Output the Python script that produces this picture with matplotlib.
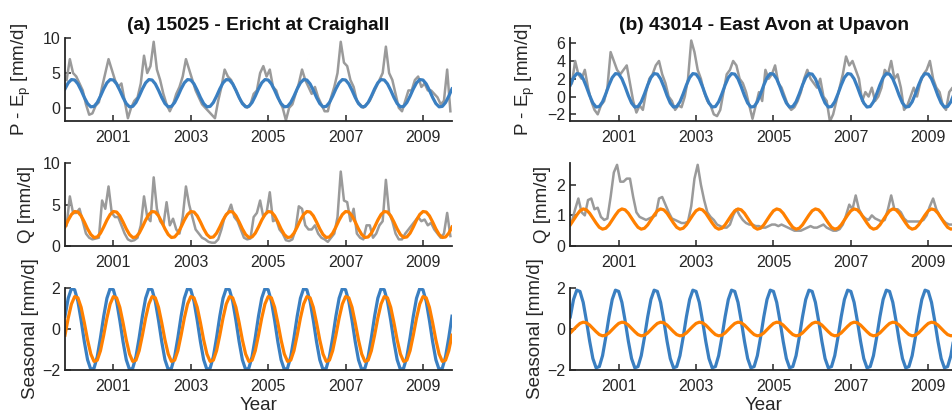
import numpy as np
import matplotlib
matplotlib.use('Agg')
import matplotlib.pyplot as plt

plt.rcParams['font.family'] = ['Liberation Sans', 'DejaVu Sans']

# monthly values, water years Oct 1999 - Sep 2009 (Oct..Sep per row)
pe_a = [
    4.0, 7.0, 5.0, 4.5, 3.5, 2.5, 0.5, -1.0, -0.8, 0.3, 0.8, 3.0,
    5.0, 7.0, 5.5, 4.0, 3.0, 3.5, 1.0, -1.5, 0.0, 1.0, 1.5, 3.5,
    7.5, 5.0, 6.0, 9.5, 5.5, 4.0, 2.0, 0.5, -0.5, 0.5, 2.0, 3.0,
    4.5, 7.0, 5.5, 4.0, 2.5, 1.5, 0.5, 0.0, -0.5, -1.0, -1.5, 1.0,
    3.0, 5.5, 4.5, 4.0, 3.0, 2.0, 1.0, 0.5, 0.0, 0.5, 2.0, 2.5,
    5.0, 6.0, 4.5, 5.5, 3.0, 2.5, 1.0, 0.0, -1.8, 0.0, 0.5, 2.0,
    3.5, 5.5, 4.0, 3.0, 2.0, 3.0, 1.5, 0.5, -0.5, -0.5, 1.5, 3.0,
    5.0, 9.5, 6.5, 6.0, 4.0, 3.0, 1.0, 0.5, 0.0, 0.5, 1.0, 2.0,
    3.0, 4.0, 5.0, 8.8, 5.0, 4.0, 2.0, 0.0, -0.5, 1.0, 2.5, 2.5,
    4.0, 4.5, 3.0, 3.5, 2.5, 2.5, 2.0, 1.5, 0.5, 1.0, 5.5, -0.5,
]
q_a = [
    2.5, 6.0, 4.0, 4.0, 4.5, 3.0, 1.5, 1.0, 0.8, 0.9, 1.0, 5.5,
    4.5, 7.2, 4.0, 3.5, 3.5, 2.5, 1.5, 0.8, 0.6, 0.7, 1.0, 2.5,
    6.0, 3.5, 3.0, 8.3, 4.5, 3.0, 2.5, 5.3, 2.5, 3.3, 2.0, 1.5,
    3.5, 7.2, 5.0, 3.5, 2.0, 1.5, 1.0, 0.8, 0.5, 0.4, 0.4, 0.8,
    2.0, 3.5, 4.0, 5.0, 3.5, 3.0, 2.0, 1.0, 0.8, 0.9, 3.5, 4.0,
    5.5, 3.5, 4.0, 6.5, 3.0, 3.2, 2.0, 1.5, 0.7, 0.6, 0.8, 2.0,
    4.8, 4.5, 2.5, 2.0, 2.0, 2.5, 1.5, 1.0, 0.8, 0.5, 1.0, 1.5,
    3.5, 9.0, 5.5, 5.3, 3.0, 4.5, 1.5, 1.0, 0.8, 2.5, 2.5, 1.0,
    1.5, 2.5, 3.0, 8.0, 4.0, 3.0, 1.5, 0.8, 0.8, 1.5, 2.0, 2.5,
    3.0, 3.5, 3.0, 3.2, 2.5, 2.8, 2.0, 1.5, 1.0, 1.5, 4.0, 1.2,
]
pe_b = [
    1.5, 4.0, 2.5, 2.0, 3.0, 1.0, -0.5, -1.5, -2.0, -1.0, -0.5, 1.0,
    5.0, 4.0, 3.0, 2.5, 3.0, 3.5, 1.5, -0.5, -1.8, -1.0, -1.5, 0.5,
    2.0, 2.5, 3.5, 4.0, 2.5, 1.5, 0.0, -0.5, -1.5, -1.0, -1.2, 0.0,
    2.0, 6.3, 5.0, 3.0, 2.0, 0.5, -0.5, -1.0, -2.0, -2.2, -1.5, 0.5,
    2.5, 3.0, 4.0, 3.5, 2.0, 1.5, 0.5, -1.0, -2.5, -1.0, 0.5, -0.5,
    3.0, 2.0, 2.5, 3.5, 1.5, 1.0, 0.0, -1.0, -1.5, -1.2, -0.5, 0.5,
    2.0, 3.0, 2.0, 1.5, 1.0, 2.0, 0.0, -0.5, -2.8, -2.0, -0.5, 1.0,
    2.5, 4.5, 3.5, 4.0, 3.0, 2.0, -0.5, 0.5, 0.0, 1.0, -0.5, 0.0,
    1.0, 3.0, 2.5, 4.0, 2.0, 2.5, 1.0, -1.5, -1.0, 0.0, 1.0, 0.0,
    1.5, 2.5, 3.0, 4.0, 2.0, 1.0, 0.5, -1.0, -1.5, 0.5, 1.0, -0.5,
]
q_b = [
    0.8, 1.2, 1.55, 1.1, 1.0, 1.5, 1.55, 1.2, 1.25, 0.95, 0.85, 0.9,
    1.6, 2.4, 2.65, 2.1, 2.1, 2.2, 2.2, 1.6, 1.1, 0.95, 0.9, 0.85,
    0.9, 0.95, 1.0, 1.55, 1.6, 1.35, 1.1, 0.9, 0.85, 0.8, 0.75, 0.75,
    0.8, 1.3, 2.2, 2.65, 2.0, 1.5, 1.1, 0.95, 0.85, 0.7, 0.65, 0.6,
    0.6, 0.7, 1.0, 1.2, 1.0, 0.85, 0.75, 0.7, 0.7, 0.65, 0.65, 0.6,
    0.6, 0.65, 0.7, 0.7, 0.65, 0.7, 0.65, 0.6, 0.55, 0.5, 0.5, 0.5,
    0.55, 0.6, 0.65, 0.6, 0.6, 0.65, 0.7, 0.6, 0.55, 0.5, 0.5, 0.55,
    0.7, 1.0, 1.35, 1.2, 1.65, 1.2, 1.0, 0.9, 0.85, 1.0, 0.9, 0.85,
    0.8, 0.85, 1.2, 1.65, 1.2, 1.2, 1.1, 0.9, 0.8, 0.8, 0.8, 0.8,
    0.8, 0.85, 1.0, 1.3, 1.55, 1.2, 1.0, 0.85, 0.75, 0.7, 0.7, 0.65,
]

# one seasonal cycle, start of each month Oct..Sep
seas_pe_a = [0.62, 1.49, 1.96, 1.90, 1.34, 0.42, -0.62, -1.49, -1.96, -1.90, -1.34, -0.42]
seas_q_a = [-0.30, 0.53, 1.21, 1.57, 1.51, 1.05, 0.30, -0.53, -1.21, -1.57, -1.51, -1.05]
seas_pe_b = [0.59, 1.43, 1.88, 1.82, 1.29, 0.40, -0.59, -1.43, -1.88, -1.82, -1.29, -0.40]
seas_q_b = [-0.19, -0.03, 0.13, 0.27, 0.33, 0.30, 0.19, 0.03, -0.13, -0.27, -0.33, -0.30]
mean_pe_a, mean_q_a = 2.1, 2.6
mean_pe_b, mean_q_b = 0.7, 0.88

titles = ['(a) 15025 - Ericht at Craighall', '(b) 43014 - East Avon at Upavon']
ylims = [[(-1.9, 10), (0, 10), (-2, 2)], [(-2.75, 6.55), (0, 2.7), (-2, 2)]]
yticks = [[[0, 5, 10], [0, 5, 10], [-2, 0, 2]], [[-2, 0, 2, 4, 6], [0, 1, 2], [-2, 0, 2]]]
ylab_off = [[-32, -30, -26], [-33, -19, -26]]

blue = '#3a7fc1'
orange = '#ff8000'
grey = '#9a9a9a'
dark = '#262626'

t_m = 1999.75 + (np.arange(120) + 0.5) / 12
t_s = 1999.75 + np.arange(121) / 12

def cycle(vals):
    v = np.tile(vals, 10)
    return np.append(v, vals[0])

fig = plt.figure(figsize=(9.52, 4.16), dpi=100)
W, H = 952, 416
lefts = [65, 570.3]
rows = [(38.3, 121), (163.3, 246), (287.7, 370.3)]
aw = 387

data = [
    (pe_a, q_a, seas_pe_a, seas_q_a, mean_pe_a, mean_q_a),
    (pe_b, q_b, seas_pe_b, seas_q_b, mean_pe_b, mean_q_b),
]

for c in range(2):
    pe, q, spe, sq, mpe, mq = data[c]
    for r in range(3):
        top, bot = rows[r]
        ax = fig.add_axes([lefts[c] / W, 1 - bot / H, aw / W, (bot - top) / H])
        if r == 0:
            ax.plot(t_m, pe, color=grey, lw=1.8)
            ax.plot(t_s, cycle(spe) + mpe, color=blue, lw=2.3)
            ax.set_ylabel('P - E$_\\mathregular{p}$ [mm/d]', fontsize=13.5, color=dark)
        elif r == 1:
            ax.plot(t_m, q, color=grey, lw=1.8)
            ax.plot(t_s, cycle(sq) + mq, color=orange, lw=2.3)
            ax.set_ylabel('Q [mm/d]', fontsize=13.5, color=dark)
        else:
            ax.plot(t_s, cycle(spe), color=blue, lw=2.3)
            ax.plot(t_s, cycle(sq), color=orange, lw=2.3)
            ax.set_ylabel('Seasonal [mm/d]', fontsize=13.5, color=dark)
            ax.set_xlabel('Year', fontsize=13.5, color=dark, labelpad=2)
        ax.yaxis.set_label_coords(ylab_off[c][r] / aw, 0.5)
        ax.set_xlim(1999.75, 2009.75)
        ax.set_ylim(*ylims[c][r])
        ax.set_xticks([2001, 2003, 2005, 2007, 2009])
        ax.set_xticklabels(['2001', '2003', '2005', '2007', '2009'])
        ax.set_yticks(yticks[c][r])
        for s in ['top', 'right']:
            ax.spines[s].set_visible(False)
        for s in ['left', 'bottom']:
            ax.spines[s].set_color(dark)
            ax.spines[s].set_linewidth(1.3)
        ax.tick_params(direction='in', length=4, width=1.1, colors=dark,
                       labelsize=11.5, labelcolor=dark)
        ax.tick_params(axis='x', pad=6.5)
        ax.tick_params(axis='y', pad=3.6)
        ax.patch.set_alpha(0)
    fig.text((lefts[c] + aw / 2) / W, 1 - 25 / H, titles[c], ha='center', va='center',
             fontsize=13.8, fontweight='bold', color='#111111')

fig.savefig('out.png', dpi=100)
